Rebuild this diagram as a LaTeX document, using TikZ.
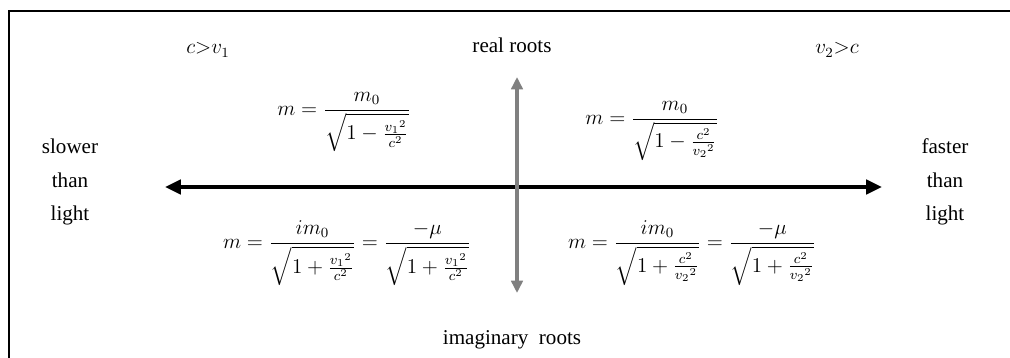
\documentclass[tikz,border=0pt]{standalone}
\usepackage{amsmath}
\usepackage{fontspec}
\setmainfont{Liberation Serif}
\usetikzlibrary{arrows.meta}

\tikzset{
    realaxis/.style={line width=2.6pt, {Triangle[length=9pt,width=8pt]}-{Triangle[length=9pt,width=8pt]}},
    rootaxis/.style={line width=2.2pt, gray, {Triangle[length=7pt,width=6.5pt]}-{Triangle[length=7pt,width=6.5pt]}},
    sidetext/.style={align=center}
}

\begin{document}
\begin{tikzpicture}[x=0.02cm, y=-0.02cm, font=\large]
    \useasboundingbox (0,0) rectangle (1010,358);
    \draw[line width=0.9pt] (9,400) -- (9,11) -- (1040,11);
    % Labels on top
    \node (cv1) at (208,50) {$c{>}v_1$};
    \node (real) at (512,45) {real roots};
    \node (v2c) at (837,50) {$v_2{>}c$};
    % Side labels
    \node[sidetext] (slower) at (70,182) {slower\\[5pt]than\\[5pt]light};
    \node[sidetext] (faster) at (945,182) {faster\\[5pt]than\\[5pt]light};
    % Axes
    \coordinate (west) at (165,187);
    \coordinate (east) at (882,187);
    \coordinate (north) at (517,77);
    \coordinate (south) at (517,293);
    \draw[realaxis] (west) -- (east);
    \draw[rootaxis] (north) -- (south);
    % Real roots
    \node (mreal1) at (344,122) {$m=\dfrac{m_0}{\sqrt{1-\frac{{v_1}^2}{c^2}}}$};
    \node (mreal2) at (652,131) {$m=\dfrac{m_0}{\sqrt{1-\frac{c^2}{{v_2}^2}}}$};
    % Imaginary roots
    \node (mimag1) at (347,253) {$m=\dfrac{im_0}{\sqrt{1+\frac{{v_1}^2}{c^2}}}=\dfrac{-\mu}{\sqrt{1+\frac{{v_1}^2}{c^2}}}$};
    \node (mimag2) at (692,253) {$m=\dfrac{im_0}{\sqrt{1+\frac{c^2}{{v_2}^2}}}=\dfrac{-\mu}{\sqrt{1+\frac{c^2}{{v_2}^2}}}$};
    \node (imag) at (512,340) {imaginary\ \ roots};
\end{tikzpicture}
\end{document}
